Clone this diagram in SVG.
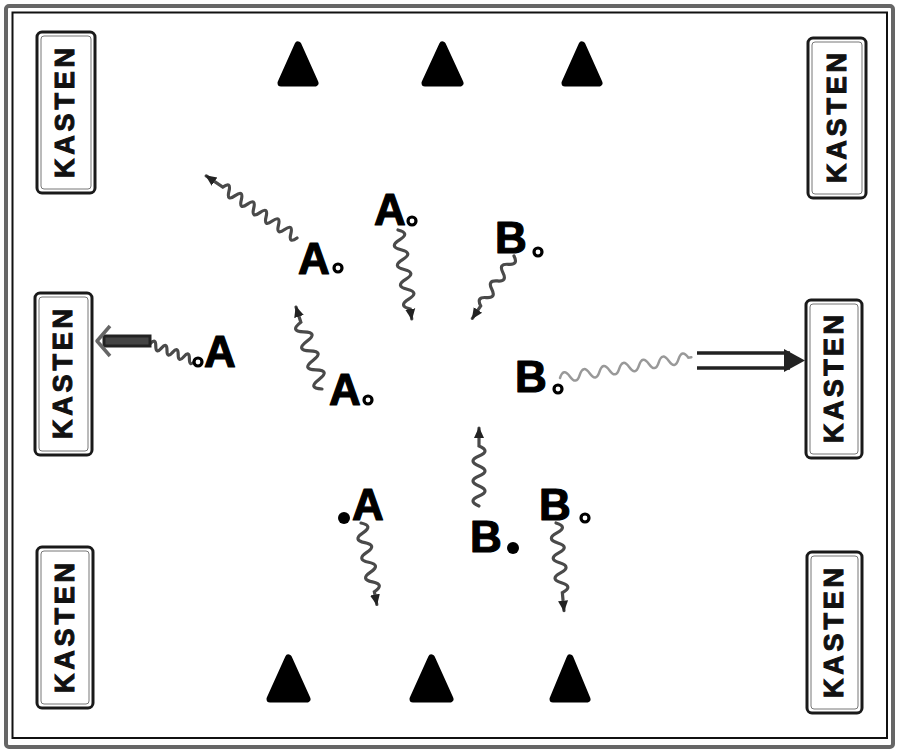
<svg xmlns="http://www.w3.org/2000/svg" width="900" height="752" viewBox="0 0 900 752">
<defs>
<style>
.box{fill:#fff;stroke:#1a1a1a;stroke-width:3}
.boxin{fill:none;stroke:#777;stroke-width:1}
.kt{font-family:"Liberation Sans",Arial,sans-serif;font-weight:bold;font-size:27px;fill:#111;stroke:#111;stroke-width:1}
.tri{fill:#000;stroke:#000;stroke-width:7;stroke-linejoin:round}
.lt{font-family:"Liberation Sans",Arial,sans-serif;font-weight:bold;font-size:44px;fill:#000;stroke:#000;stroke-width:1.2;stroke-linejoin:round}
.wv{fill:none;stroke:#4a4a4a;stroke-width:3.2;stroke-linecap:round}
.wvl{fill:none;stroke:#999;stroke-width:2.5;stroke-linecap:round}
.hd{fill:#000}
.ho{fill:#fff;stroke:#000;stroke-width:3.2}
</style>
<marker id="ah" markerUnits="userSpaceOnUse" markerWidth="12" markerHeight="12" viewBox="0 0 12 12" refX="10" refY="6" orient="auto">
<path d="M0,1 L11,6 L0,11 z" fill="#222"/>
</marker>
</defs>
<rect x="0" y="0" width="900" height="752" fill="#fff"/>
<g id="frame">
<rect x="6" y="6" width="887" height="741" rx="3" fill="none" stroke="#666" stroke-width="4"/>
<rect x="12.5" y="12.5" width="874.5" height="725.5" fill="none" stroke="#111" stroke-width="2"/>
</g>
<g id="kasten-tl"><rect class="box" x="37" y="32" width="58" height="161" rx="5"/><rect class="boxin" x="41" y="36" width="50" height="153" rx="3"/><text class="kt" transform="translate(64,113) rotate(-90)" x="0" y="9.5" text-anchor="middle" textLength="130" lengthAdjust="spacing">KASTEN</text></g>
<g id="kasten-lm"><rect class="box" x="35" y="293" width="57" height="162" rx="5"/><rect class="boxin" x="39" y="297" width="49" height="154" rx="3"/><text class="kt" transform="translate(62,374) rotate(-90)" x="0" y="9.5" text-anchor="middle" textLength="130" lengthAdjust="spacing">KASTEN</text></g>
<g id="kasten-bl"><rect class="box" x="37" y="547" width="56" height="161" rx="5"/><rect class="boxin" x="41" y="551" width="48" height="153" rx="3"/><text class="kt" transform="translate(64,628) rotate(-90)" x="0" y="9.5" text-anchor="middle" textLength="130" lengthAdjust="spacing">KASTEN</text></g>
<g id="kasten-tr"><rect class="box" x="808" y="38" width="58" height="160" rx="5"/><rect class="boxin" x="812" y="42" width="50" height="152" rx="3"/><text class="kt" transform="translate(836,118) rotate(-90)" x="0" y="9.5" text-anchor="middle" textLength="130" lengthAdjust="spacing">KASTEN</text></g>
<g id="kasten-rm"><rect class="box" x="806" y="300" width="56" height="158" rx="5"/><rect class="boxin" x="810" y="304" width="48" height="150" rx="3"/><text class="kt" transform="translate(833,379) rotate(-90)" x="0" y="9.5" text-anchor="middle" textLength="128" lengthAdjust="spacing">KASTEN</text></g>
<g id="kasten-br"><rect class="box" x="807" y="552" width="55" height="161" rx="5"/><rect class="boxin" x="811" y="556" width="47" height="153" rx="3"/><text class="kt" transform="translate(833,633) rotate(-90)" x="0" y="9.5" text-anchor="middle" textLength="130" lengthAdjust="spacing">KASTEN</text></g>
<g id="tri-t1"><polygon class="tri" points="298,45 315,83 281,83"/></g>
<g id="tri-t2"><polygon class="tri" points="442.5,45 460,83 425,83"/></g>
<g id="tri-t3"><polygon class="tri" points="582,45 599,83 565,83"/></g>
<g id="tri-b1"><polygon class="tri" points="288.5,658 307,699 270,699"/></g>
<g id="tri-b2"><polygon class="tri" points="431.5,658 450,699 413,699"/></g>
<g id="tri-b3"><polygon class="tri" points="570,658 587,699 553,699"/></g>
<g id="connectors">
<path class="wv" transform="translate(297,238) rotate(-145.6)" marker-end="url(#ah)" d="M0,0 q3.75,-10 7.5,0 t7.5,0 t7.5,0 t7.5,0 t7.5,0 t7.5,0 t7.5,0 t7.5,0 t7.5,0 t7.5,0 t7.5,0 t7.5,0 l20,0"/>
<path class="wv" transform="translate(398,230) rotate(81.2)" marker-end="url(#ah)" d="M0,0 q5,-12 10,0 t10,0 t10,0 t10,0 t10,0 t10,0 t10,0 t10,0 l10,0"/>
<path class="wv" transform="translate(514,256) rotate(123.7)" marker-end="url(#ah)" d="M0,0 q5,-9 10,0 t10,0 t10,0 t10,0 t10,0 t10,0 l15,0"/>
<path class="wv" transform="translate(195,361) rotate(-159)" d="M0,0 q3,-8 6,0 t6,0 t6,0 t6,0 t6,0 t6,0 t6,0 t6,0"/>
<rect x="104" y="336" width="46" height="10" fill="#444" stroke="#222" stroke-width="3"/>
<path d="M110,326 L97,341 L110,356" fill="none" stroke="#666" stroke-width="3.5" stroke-linejoin="round"/>
<path class="wv" transform="translate(322,389) rotate(-107.6)" marker-end="url(#ah)" d="M0,0 q5,-14 10,0 t10,0 t10,0 t10,0 t10,0 t10,0 t10,0 l16,0"/>
<path class="wvl" transform="translate(560,378) rotate(-9)" d="M0,0 q5,-10 10,0 t10,0 t10,0 t10,0 t10,0 t10,0 t10,0 t10,0 t10,0 t10,0 t10,0 t10,0 t10,0 l3,0"/>
<line x1="697" y1="353" x2="790" y2="353" stroke="#222" stroke-width="3.5"/>
<line x1="697" y1="368" x2="790" y2="368" stroke="#222" stroke-width="3.5"/>
<polygon points="784,349 805,360.5 784,372" fill="#222"/>
<path class="wv" transform="translate(361,523) rotate(79)" marker-end="url(#ah)" d="M0,0 q5,-12 10,0 t10,0 t10,0 t10,0 t10,0 t10,0 t10,0 l13,0"/>
<path class="wv" transform="translate(479,506) rotate(-90)" marker-end="url(#ah)" d="M0,0 q5,-12 10,0 t10,0 t10,0 t10,0 t10,0 t10,0 l18,0"/>
<path class="wv" transform="translate(556,523) rotate(84.8)" marker-end="url(#ah)" d="M0,0 q5,-12 10,0 t10,0 t10,0 t10,0 t10,0 t10,0 t10,0 l18,0"/>
</g>
<g id="a-topleft"><text class="lt" x="298" y="274">A</text><circle class="ho" cx="338" cy="268" r="4"/></g>
<g id="a-topcenter"><text class="lt" x="374" y="225">A</text><circle class="ho" cx="412" cy="221" r="4"/></g>
<g id="b-top"><text class="lt" x="495" y="253">B</text><circle class="ho" cx="538" cy="252" r="4"/></g>
<g id="a-left"><text class="lt" x="204" y="367">A</text><circle class="ho" cx="198" cy="362" r="4"/></g>
<g id="a-midleft"><text class="lt" x="329" y="405">A</text><circle class="ho" cx="368" cy="400" r="4"/></g>
<g id="b-right"><text class="lt" x="515" y="392">B</text><circle class="ho" cx="558" cy="389" r="4"/></g>
<g id="a-bottom"><text class="lt" x="352" y="520">A</text><circle class="hd" cx="344" cy="518" r="6"/></g>
<g id="b-bottommid"><text class="lt" x="470" y="552">B</text><circle class="hd" cx="513" cy="548" r="6"/></g>
<g id="b-bottomright"><text class="lt" x="539" y="520">B</text><circle class="ho" cx="585" cy="518" r="4"/></g>
</svg>
